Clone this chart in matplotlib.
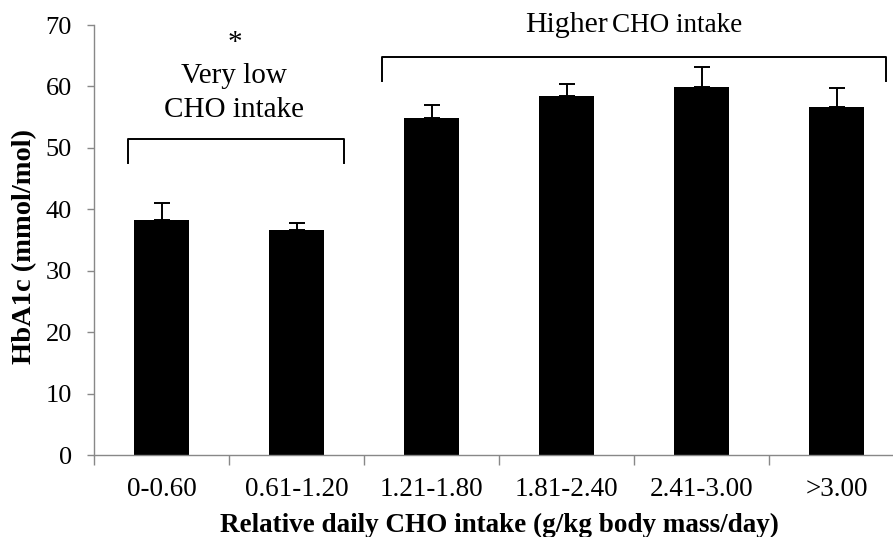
import matplotlib
matplotlib.use("Agg")
import matplotlib.pyplot as plt
import numpy as np

categories = ["0-0.60", "0.61-1.20", "1.21-1.80", "1.81-2.40", "2.41-3.00", ">3.00"]
hba1c = [38.2, 36.7, 54.8, 58.4, 59.9, 56.6]
err_upper = [2.9, 1.1, 2.1, 2.0, 3.3, 3.2]
yticks = [0, 10, 20, 30, 40, 50, 60, 70]

plt.rcParams["font.family"] = ["Liberation Serif", "DejaVu Serif"]

fig = plt.figure(figsize=(8.93, 5.37), dpi=100)
ax = fig.add_axes([94 / 893, 82 / 537, 810 / 893, 430 / 537])

x = np.arange(len(categories))
ax.bar(x, hba1c, width=0.41, color="black", zorder=2)
ax.errorbar(x, hba1c, yerr=[np.zeros(len(hba1c)), err_upper], fmt="none",
            ecolor="black", elinewidth=1.4, capsize=6, capthick=1.4, zorder=3)

ax.set_xlim(-0.5, len(categories) - 0.5)
ax.set_ylim(0, 70)
ax.set_yticks(yticks)
ax.set_yticklabels([str(v) for v in yticks], fontsize=19)
ax.set_xticks(x)
ax.set_xticklabels(categories, fontsize=19.5)
ax.set_xticks(np.arange(-0.5, len(categories), 1.0), minor=True)
ax.tick_params(axis="x", which="major", length=0, pad=16)
ax.tick_params(axis="x", which="minor", length=7, color="#888888", width=1)
ax.tick_params(axis="y", length=5, color="#888888", width=1, pad=11)

for side in ("top", "right"):
    ax.spines[side].set_visible(False)
for side in ("left", "bottom"):
    ax.spines[side].set_color("#888888")
    ax.spines[side].set_linewidth(1)

ax.set_ylabel("HbA1c (mmol/mol)", fontsize=20.5, fontweight="bold",
              labelpad=6, y=0.484)
ax.set_xlabel("Relative daily CHO intake (g/kg body mass/day)", fontsize=19.5,
              fontweight="bold", labelpad=8)

# group brackets
def bracket(x0, x1, y_top, y_bot):
    ax.plot([x0, x0, x1, x1], [y_bot, y_top, y_top, y_bot], color="black",
            lw=1.4, clip_on=False, zorder=4)

bracket(-0.25, 1.35, 51.5, 47.6)
bracket(1.63, 5.37, 64.8, 60.9)

ax.text(0.54, 67.0, "*", ha="center", va="center", fontsize=21)
ax.text(0.54, 60.6, "Very low", ha="center", va="baseline", fontsize=21)
ax.text(0.54, 55.0, "CHO intake", ha="center", va="baseline", fontsize=21)
ax.text(2.69, 68.9, "Higher", ha="left", va="baseline", fontsize=21.5, clip_on=False)
ax.text(3.34, 68.9, "CHO intake", ha="left", va="baseline", fontsize=19.5, clip_on=False)

fig.savefig("out.png", dpi=100)
